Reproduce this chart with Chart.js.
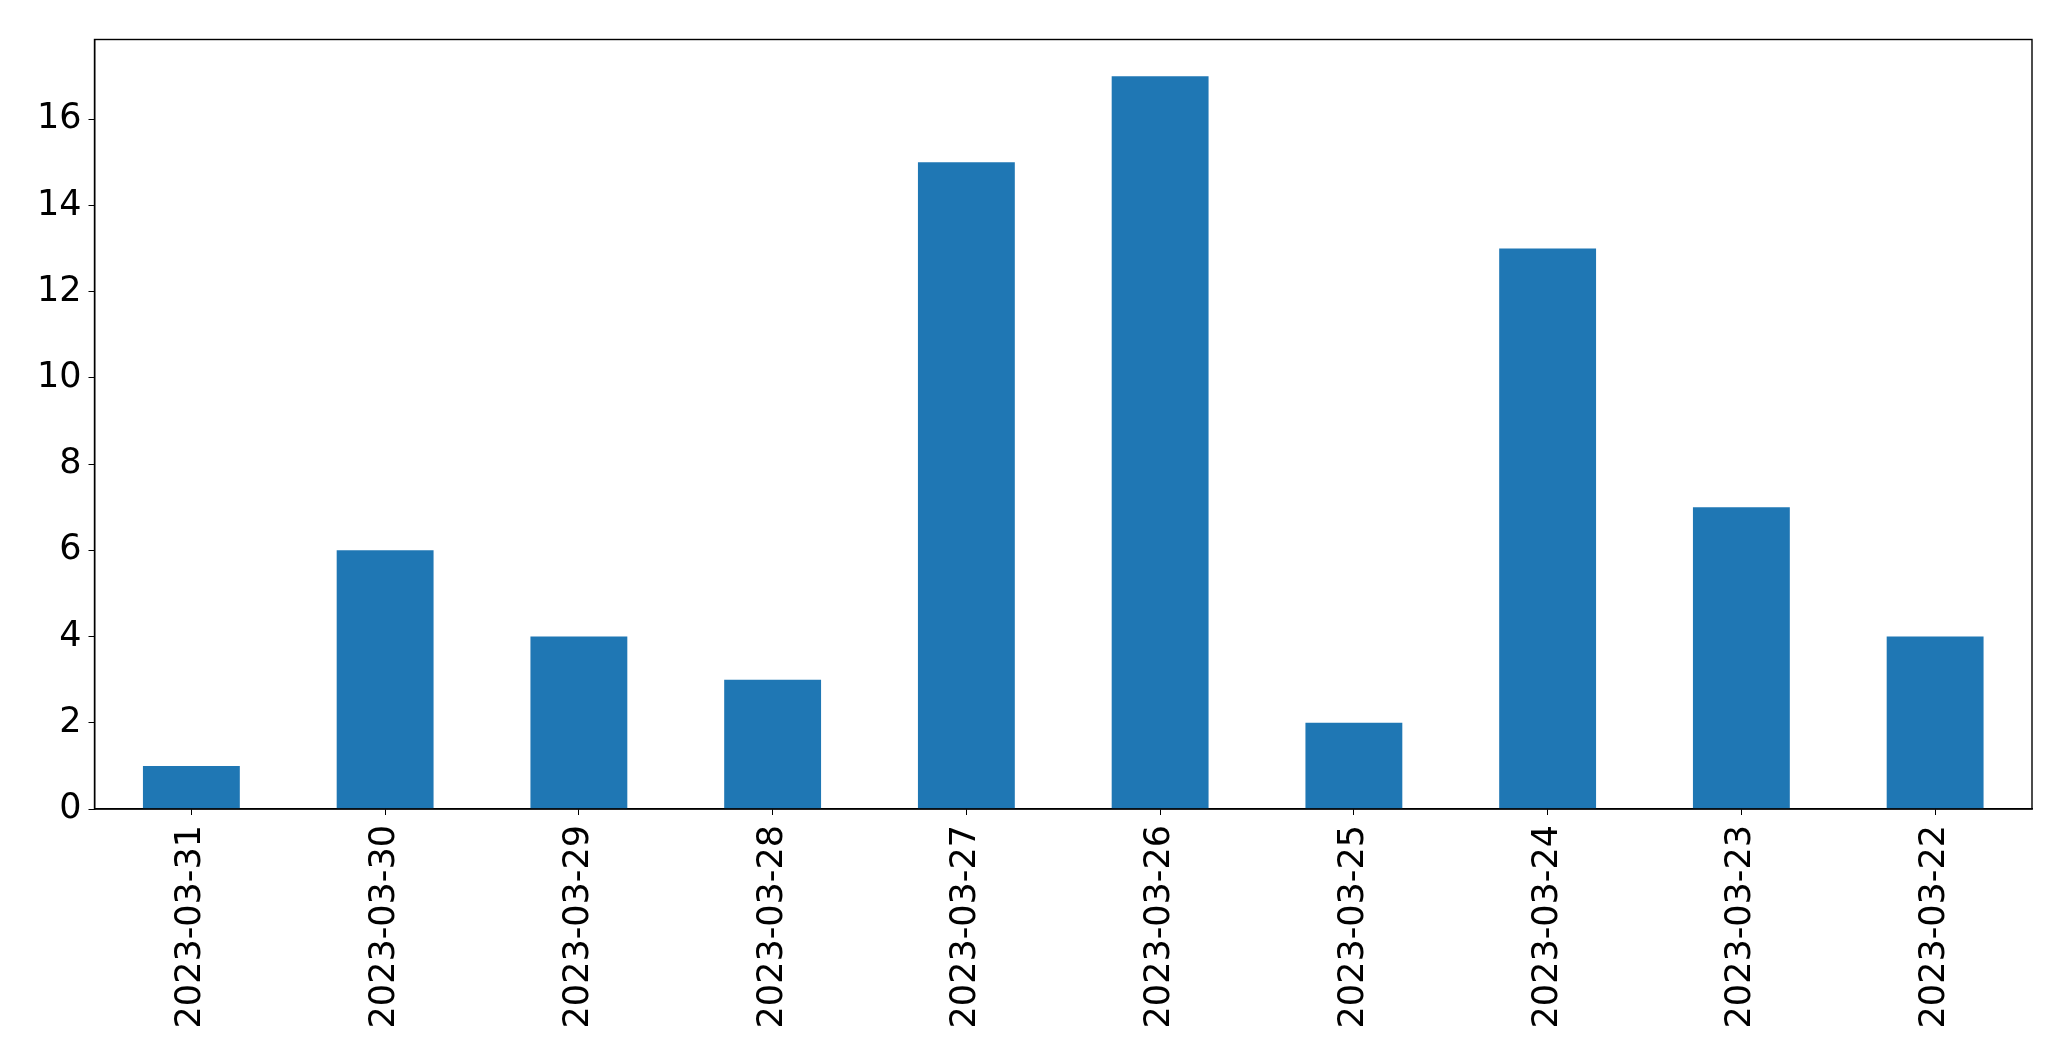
<!DOCTYPE html>
<html>
<head>
<meta charset="utf-8">
<script src="https://cdn.jsdelivr.net/npm/chart.js@4.4.0/dist/chart.umd.min.js"></script>
<style>
  body { margin: 0; background: #fff; }
  canvas { display: block; }
</style>
</head>
<body>
<canvas id="myChart" width="2071" height="1061"></canvas>
<script>
"use strict";
// data ---------------
const dates = ["2023-03-31", "2023-03-30", "2023-03-29", "2023-03-28", "2023-03-27",
  "2023-03-26", "2023-03-25", "2023-03-24", "2023-03-23", "2023-03-22"];
const counts = [1, 6, 4, 3, 15, 17, 2, 13, 7, 4];
const yTicks = [0, 2, 4, 6, 8, 10, 12, 14, 16];

// frame around the plot area ----------
const boxPlugin = {
  id: "box",
  afterDraw(chart) {
    const a = chart.chartArea;
    const c = chart.ctx;
    c.save();
    c.strokeStyle = "black";
    c.lineWidth = 1.4;
    c.strokeRect(a.left, a.top, a.right - a.left, a.bottom - a.top);
    c.restore();
  },
};

const font = { family: "DejaVu Sans", size: 35 };

const ctx = document.getElementById("myChart").getContext("2d");
const myChart = new Chart(ctx, {
  type: "bar",
  data: {
    labels: dates,
    datasets: [
      {
        data: counts,
        backgroundColor: "#1f77b4",
        barPercentage: 0.5,
        categoryPercentage: 1,
      },
    ],
  },
  options: {
    responsive: false,
    animation: false,
    layout: { padding: { top: 39.5, right: 39, left: 0, bottom: 0 } },
    plugins: { legend: { display: false }, tooltip: { enabled: false } },
    scales: {
      x: {
        grid: { drawOnChartArea: false, color: "black", tickLength: 6, offset: false },
        border: { color: "black", width: 1.4 },
        ticks: { color: "black", font: font, maxRotation: 90, minRotation: 90, padding: 10, autoSkip: false },
        afterFit: (s) => { s.height = 252; },
      },
      y: {
        min: 0,
        max: 17.85,
        grid: { drawOnChartArea: false, color: "black", tickLength: 6 },
        border: { color: "black", width: 1.4 },
        ticks: { color: "black", font: font, padding: 7 },
        afterBuildTicks: (s) => { s.ticks = yTicks.map((v) => ({ value: v })); },
        afterFit: (s) => { s.width = 94.5; },
      },
    },
  },
  plugins: [boxPlugin],
});
</script>
</body>
</html>
